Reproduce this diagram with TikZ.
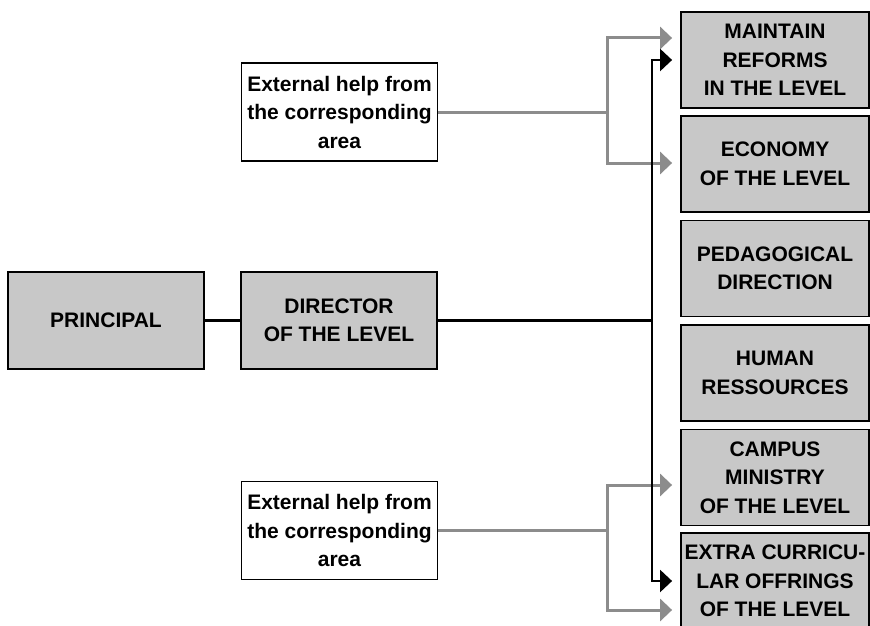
\documentclass[tikz,border=0pt]{standalone}
\usepackage{fontspec}
\setmainfont{Liberation Sans}
\usetikzlibrary{arrows.meta}
\definecolor{boxgray}{RGB}{200,200,200}
\definecolor{linegray}{RGB}{140,140,140}
\pgfdeclarelayer{bg}
\pgfsetlayers{bg,main}
\tikzset{
        unit/.style={draw, line width=1.8pt, fill=boxgray, minimum width=196pt, minimum height=97pt,
                inner sep=0pt, align=center, font=\bfseries\fontsize{21}{28.5}\selectfont},
        dept/.style={unit, minimum width=188pt, minimum height=96pt},
        helpbox/.style={unit, fill=white, line width=1.3pt, minimum height=98pt},
        busline/.style={line width=2.2pt, black},
        helpline/.style={line width=3pt, linegray},
        arrowto/.style={{Triangle[width=22pt,length=12pt]}-{Triangle[width=22pt,length=12pt]},
                shorten <=8pt, shorten >=8pt}
}
\begin{document}
\begin{tikzpicture}
        \useasboundingbox (0pt,0pt) rectangle (870pt,-626pt);
        \node (principal) [unit] at (106pt, -320.5pt) {PRINCIPAL};
        \node (director) [unit] at (339pt, -320.5pt) {DIRECTOR\\OF THE LEVEL};
        \node (ext1) [helpbox] at (339.5pt, -112pt) {External help from\\the corresponding\\area};
        \node (ext2) [helpbox] at (339.5pt, -530.5pt) {External help from\\the corresponding\\area};
        \node (maint) [dept] at (775pt, -60pt) {MAINTAIN\\REFORMS\\IN THE LEVEL};
        \node (econ) [dept] at (775pt, -164pt) {ECONOMY\\OF THE LEVEL};
        \node (pedag) [dept] at (775pt, -268.5pt) {PEDAGOGICAL\\DIRECTION};
        \node (human) [dept] at (775pt, -373pt) {HUMAN\\RESSOURCES};
        \node (campus) [dept] at (775pt, -477.5pt) {CAMPUS\\MINISTRY\\OF THE LEVEL};
        \node (extra) [dept] at (775pt, -581pt) {EXTRA CURRICU-\\LAR OFFRINGS\\OF THE LEVEL};
        \coordinate (b0) at (652pt, -320.5pt);
        \coordinate (b1) at (652pt, -60pt);
        \coordinate (b2) at (652pt, -581pt);
        \coordinate (g0) at (607pt, -112pt);
        \coordinate (g1) at (607pt, -38pt);
        \coordinate (g2) at (607pt, -163pt);
        \coordinate (g3) at (607pt, -530.5pt);
        \coordinate (g4) at (607pt, -485pt);
        \coordinate (g5) at (607pt, -610pt);
        \begin{pgfonlayer}{bg}
                \draw (ext1) edge [helpline] (g0);
                \draw (ext2) edge [helpline] (g3);
                \draw [helpline, arrowto] (g1 -| maint.west) -- (g1) -- (g2) -- (g2 -| econ.west);
                \draw [helpline, arrowto] (g4 -| campus.west) -- (g4) -- (g5) -- (g5 -| extra.west);
                \draw (principal) edge [busline] (director);
                \draw (director) edge [busline] (b0);
                \draw [busline, arrowto] (b1 -| maint.west) -- (b1) -- (b2) -- (b2 -| extra.west);
        \end{pgfonlayer}
\end{tikzpicture}
\end{document}
